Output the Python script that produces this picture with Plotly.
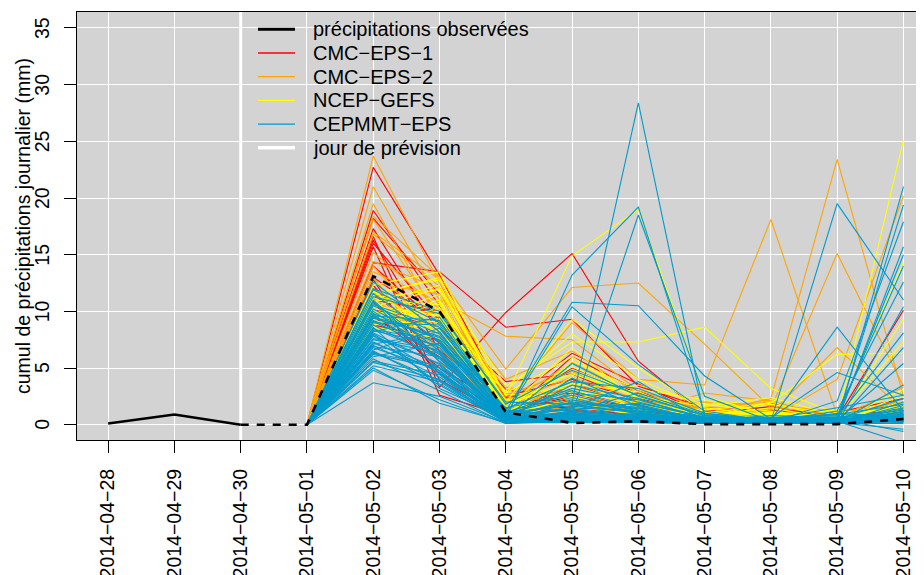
import plotly.graph_objects as go

dates = ["2014-04-28", "2014-04-29", "2014-04-30", "2014-05-01", "2014-05-02",
         "2014-05-03", "2014-05-04", "2014-05-05", "2014-05-06", "2014-05-07",
         "2014-05-08", "2014-05-09", "2014-05-10"]
forecast_day = "2014-04-30"
forecast_dates = dates[3:]

observed = [0.1, 0.9, 0.0, 0.0, 13.1, 10.0, 1.1, 0.15, 0.3, 0.05, 0.05, 0.05, 0.5]

cmc_eps_1 = [
    [0, 22.7, 13.2, 2.0, 1.5, 0.8, 0.3, 0.5, 0.4, 0.9],
    [0, 18.9, 10.5, 1.2, 2.5, 1.3, 0.6, 0.4, 0.8, 1.2],
    [0, 17.3, 8.0, 1.8, 6.3, 3.6, 1.0, 1.6, 0.6, 10.1],
    [0, 16.6, 3.3, 9.9, 15.1, 5.6, 0.8, 1.0, 0.5, 1.6],
    [0, 16.3, 6.5, 2.4, 3.0, 1.5, 0.9, 1.9, 0.7, 2.0],
    [0, 15.7, 2.6, 0.8, 1.9, 0.5, 0.4, 0.3, 0.2, 0.6],
    [0, 14.3, 13.5, 8.6, 9.3, 3.4, 1.5, 1.2, 0.9, 0.8],
    [0, 13.0, 9.0, 3.8, 4.5, 2.0, 0.7, 0.6, 0.3, 1.0],
    [0, 12.3, 5.5, 1.5, 2.2, 1.0, 0.5, 0.9, 0.4, 0.4],
    [0, 11.5, 7.2, 0.9, 1.0, 2.4, 0.6, 0.7, 1.1, 2.3],
    [0, 10.8, 4.5, 1.0, 3.5, 1.8, 1.2, 1.5, 0.5, 0.5],
    [0, 10.2, 8.5, 2.8, 1.3, 0.6, 0.3, 0.5, 0.6, 1.5],
    [0, 9.5, 6.0, 1.3, 5.0, 2.8, 0.9, 0.4, 0.3, 0.7],
    [0, 18.2, 11.5, 0.6, 0.9, 0.9, 0.5, 0.6, 0.7, 1.8],
    [0, 8.8, 7.5, 2.2, 2.8, 1.2, 0.4, 1.3, 0.4, 0.3],
    [0, 16.0, 9.2, 1.1, 1.6, 1.7, 0.8, 0.5, 0.9, 1.1],
    [0, 12.8, 4.0, 0.7, 6.0, 3.0, 0.6, 0.8, 0.2, 0.9],
    [0, 11.0, 10.0, 3.1, 2.0, 0.7, 0.3, 0.4, 0.5, 0.6],
    [0, 9.8, 5.0, 1.6, 1.2, 0.4, 1.0, 1.1, 0.3, 1.3],
    [0, 14.0, 8.8, 2.5, 4.0, 2.2, 0.7, 0.6, 0.6, 0.8],
]

cmc_eps_2 = [
    [0, 23.7, 12.5, 1.5, 2.0, 1.0, 0.6, 0.8, 0.9, 1.0],
    [0, 21.0, 11.0, 7.8, 7.5, 3.0, 1.2, 0.9, 0.6, 1.9],
    [0, 18.4, 13.0, 4.9, 12.1, 12.5, 7.1, 1.5, 0.4, 0.5],
    [0, 18.1, 9.5, 2.0, 9.0, 4.0, 3.5, 18.1, 0.8, 0.6],
    [0, 14.4, 12.0, 1.2, 3.5, 1.6, 1.0, 2.3, 23.4, 2.5],
    [0, 13.5, 10.8, 2.6, 4.7, 2.0, 0.8, 1.4, 15.1, 3.4],
    [0, 12.0, 8.0, 1.0, 1.8, 0.8, 0.5, 1.0, 6.8, 1.2],
    [0, 11.2, 6.8, 0.8, 1.1, 0.5, 0.4, 0.6, 4.0, 20.2],
    [0, 10.5, 9.8, 3.3, 2.5, 1.2, 1.6, 2.0, 0.7, 0.8],
    [0, 16.8, 12.2, 0.9, 0.8, 0.6, 0.3, 0.4, 0.5, 0.4],
    [0, 9.5, 7.0, 1.8, 5.5, 2.5, 1.0, 1.2, 0.3, 1.4],
    [0, 13.0, 5.5, 1.4, 1.4, 1.9, 2.0, 1.7, 1.2, 0.7],
    [0, 15.2, 10.2, 2.3, 3.0, 0.9, 0.7, 0.5, 0.6, 3.3],
    [0, 10.0, 8.5, 0.6, 2.2, 1.4, 0.9, 0.8, 0.4, 0.9],
    [0, 12.5, 11.5, 4.0, 6.5, 2.7, 1.4, 1.8, 0.9, 0.6],
    [0, 19.5, 9.0, 1.6, 1.0, 0.7, 0.5, 0.3, 0.2, 1.1],
    [0, 11.8, 6.2, 1.1, 3.8, 1.5, 0.6, 1.5, 1.0, 2.0],
    [0, 14.0, 7.5, 2.8, 1.7, 1.1, 2.8, 2.1, 0.5, 0.5],
    [0, 9.0, 9.0, 1.3, 2.6, 0.6, 0.4, 0.9, 0.7, 1.6],
    [0, 17.0, 12.8, 1.9, 4.2, 2.2, 1.1, 0.7, 0.6, 0.8],
]

ncep_gefs = [
    [0, 12.3, 13.5, 2.5, 14.9, 19.0, 2.5, 0.8, 0.5, 25.1],
    [0, 11.6, 12.8, 3.4, 7.3, 7.3, 8.6, 3.2, 1.0, 1.3],
    [0, 11.2, 11.9, 2.0, 9.3, 5.0, 1.3, 1.9, 6.2, 6.3],
    [0, 10.5, 9.6, 1.5, 5.1, 2.6, 1.0, 0.9, 0.7, 14.3],
    [0, 10.0, 9.0, 1.2, 3.0, 1.8, 0.7, 0.5, 0.3, 9.3],
    [0, 9.6, 8.5, 0.9, 2.2, 3.5, 1.8, 1.2, 0.6, 7.3],
    [0, 9.2, 11.0, 1.0, 4.2, 1.2, 0.4, 0.7, 0.4, 3.1],
    [0, 8.8, 10.3, 2.8, 6.0, 2.2, 0.9, 0.6, 0.8, 1.5],
    [0, 8.6, 7.6, 0.7, 1.5, 1.0, 0.6, 2.0, 0.4, 0.9],
    [0, 10.8, 12.3, 1.8, 3.6, 2.9, 0.5, 0.4, 0.3, 0.6],
    [0, 9.9, 10.0, 1.1, 2.0, 0.8, 0.7, 1.0, 0.6, 2.0],
    [0, 11.8, 8.0, 3.0, 8.0, 4.0, 1.5, 0.8, 0.5, 0.8],
    [0, 9.4, 11.5, 0.5, 1.1, 0.6, 0.3, 0.5, 0.2, 1.0],
    [0, 10.2, 9.3, 1.4, 4.8, 2.4, 1.2, 0.9, 1.3, 0.5],
    [0, 8.4, 8.8, 2.2, 2.9, 1.5, 0.8, 1.5, 0.4, 1.8],
    [0, 11.0, 10.6, 0.8, 5.6, 3.1, 2.2, 0.6, 0.7, 0.7],
    [0, 9.0, 9.8, 1.6, 1.7, 1.1, 0.4, 0.3, 0.5, 1.2],
    [0, 10.4, 12.0, 2.6, 3.3, 1.9, 1.0, 1.8, 0.9, 0.4],
    [0, 11.4, 13.0, 1.3, 6.8, 2.0, 0.6, 0.7, 0.4, 2.6],
    [0, 9.7, 8.2, 0.6, 2.5, 1.3, 0.9, 1.1, 0.6, 0.9],
    [0, 8.7, 10.8, 2.0, 4.5, 2.5, 1.6, 2.4, 0.8, 1.6],
]

cepmmt_eps = [
    [0, 8.0, 4.5, 0.3, 2.0, 28.4, 0.6, 0.2, 0.1, 0.3],
    [0, 10.8, 6.5, 0.5, 13.2, 19.2, 1.0, 0.4, 0.3, 0.8],
    [0, 7.2, 5.0, 0.4, 1.0, 18.5, 2.5, 0.3, 0.2, 21.0],
    [0, 11.9, 9.0, 1.2, 10.8, 10.5, 4.3, 0.5, 0.4, 0.6],
    [0, 9.5, 7.8, 0.9, 10.4, 5.3, 1.2, 0.3, 0.5, 19.4],
    [0, 6.5, 3.5, 0.2, 0.8, 1.5, 0.4, 0.3, 19.5, 11.0],
    [0, 12.6, 8.2, 0.6, 5.4, 2.5, 0.8, 0.4, 8.6, 1.2],
    [0, 5.5, 4.0, 0.3, 4.1, 1.6, 0.5, 0.6, 4.6, 2.6],
    [0, 8.5, 6.0, 0.8, 1.5, 3.8, 0.3, 0.2, 2.1, 17.9],
    [0, 7.8, 5.4, 0.5, 0.6, 0.9, 0.2, 0.1, 0.3, 15.7],
    [0, 10.2, 7.0, 1.5, 2.6, 1.2, 0.5, 0.4, 0.5, 15.0],
    [0, 6.8, 4.8, 0.2, 0.4, 0.7, 0.3, 0.6, 0.8, 14.0],
    [0, 9.0, 8.8, 1.0, 3.2, 2.0, 0.6, 0.3, 1.2, 12.6],
    [0, 5.8, 3.0, 0.1, 0.5, 0.4, 0.1, 0.2, 0.1, 10.4],
    [0, 11.3, 9.8, 2.0, 1.8, 1.0, 0.4, 0.5, 0.6, 8.1],
    [0, 7.5, 6.3, 0.6, 0.9, 0.6, 0.2, 0.3, 0.2, 6.8],
    [0, 8.8, 5.8, 0.4, 1.2, 2.8, 0.9, 0.4, 0.4, 5.4],
    [0, 3.7, 2.5, 0.2, 0.3, 0.3, 0.1, 0.1, 0.2, 3.5],
    [0, 6.0, 7.2, 0.7, 2.2, 1.1, 0.3, 0.5, 1.5, 2.6],
    [0, 10.5, 8.0, 1.3, 0.7, 0.5, 0.6, 0.2, 0.3, -1.6],
    [0, 9.2, 6.8, 0.3, 1.6, 1.8, 0.4, 0.3, 0.5, -0.6],
    [0, 7.0, 4.2, 0.5, 0.4, 0.2, 0.1, 0.4, 0.2, -0.4],
    [0, 8.2, 9.5, 1.1, 3.0, 1.3, 0.7, 0.6, 0.7, 0.9],
    [0, 6.3, 5.2, 0.4, 0.8, 0.8, 0.3, 0.2, 0.4, 0.5],
    [0, 9.8, 7.5, 0.7, 1.4, 0.6, 0.5, 0.3, 0.3, 1.5],
    [0, 5.2, 3.8, 0.2, 0.2, 0.4, 0.2, 0.1, 0.1, 0.2],
    [0, 11.0, 5.6, 0.9, 2.8, 2.2, 0.6, 0.5, 0.9, 1.8],
    [0, 7.6, 6.6, 0.3, 0.6, 1.0, 0.2, 0.3, 0.2, 0.7],
    [0, 8.6, 3.2, 0.6, 1.1, 0.7, 0.4, 0.8, 0.6, 1.0],
    [0, 6.6, 8.5, 1.4, 3.8, 3.2, 1.0, 0.4, 0.3, 0.4],
    [0, 10.0, 6.2, 0.4, 0.5, 0.3, 0.1, 0.2, 0.1, 2.0],
    [0, 4.8, 2.2, 0.1, 0.3, 0.5, 0.3, 0.2, 0.2, 0.3],
    [0, 9.4, 7.7, 0.8, 1.9, 1.4, 0.5, 0.3, 0.4, 1.1],
    [0, 7.3, 4.6, 0.3, 0.7, 0.6, 0.2, 0.6, 0.5, 0.6],
    [0, 12.0, 10.0, 1.8, 4.8, 2.6, 0.8, 0.4, 0.3, 0.9],
    [0, 6.2, 5.0, 0.5, 1.0, 0.8, 0.4, 0.3, 0.6, 0.2],
    [0, 8.3, 7.0, 0.6, 0.9, 1.7, 0.3, 0.2, 0.2, 1.4],
    [0, 5.0, 1.9, 0.2, 0.2, 0.2, 0.1, 0.1, 0.1, 0.1],
    [0, 9.6, 9.2, 1.0, 2.4, 0.9, 0.6, 0.5, 0.4, 0.5],
    [0, 7.9, 3.6, 0.4, 0.6, 0.4, 0.2, 0.2, 0.3, 0.8],
    [0, 10.6, 8.6, 0.9, 1.3, 1.9, 0.7, 0.3, 0.6, 0.3],
    [0, 6.9, 6.0, 0.3, 0.4, 0.3, 0.2, 0.4, 0.2, 1.2],
    [0, 8.1, 5.3, 0.6, 3.5, 2.3, 0.5, 0.6, 0.9, 0.6],
    [0, 11.6, 7.3, 1.1, 1.7, 1.1, 0.4, 0.3, 0.4, 0.4],
    [0, 5.6, 4.4, 0.2, 0.5, 0.6, 0.3, 0.2, 0.3, 0.9],
    [0, 9.1, 6.4, 0.7, 1.0, 0.5, 0.2, 0.5, 0.2, 1.7],
    [0, 7.1, 8.2, 0.8, 2.0, 1.5, 0.6, 0.3, 1.0, 0.7],
    [0, 10.9, 4.7, 0.4, 0.3, 0.3, 0.1, 0.2, 0.1, 0.4],
    [0, 6.4, 3.9, 0.3, 1.2, 0.9, 0.4, 0.4, 0.5, 2.3],
    [0, 8.4, 7.4, 0.5, 0.8, 0.7, 0.3, 0.1, 0.3, 0.6],
    [0, 9.7, 5.9, 0.6, 1.5, 1.2, 0.5, 0.3, 0.4, 1.3],
]

legend_labels = ["précipitations observées", "CMC−EPS−1", "CMC−EPS−2",
                 "NCEP−GEFS", "CEPMMT−EPS", "jour de prévision"]
tick_labels = [d.replace("-", "−") for d in dates]
y_ticks = [0, 5, 10, 15, 20, 25, 30, 35]
y_title = "cumul de précipitations journalier (mm)"

xi = {d: i for i, d in enumerate(dates)}
fx = [xi[d] for d in forecast_dates]
fd = xi[forecast_day]

FONT = "Liberation Sans, Arial, Helvetica, sans-serif"
W, H = 924, 575
BODY = 8                      # default page margin around the plot div
# plot area on the page (pixels)
PL, PR, PT, PB = 77, 922, 12, 440
PW, PH = PR - PL, PB - PT

fig = go.Figure()

groups = [
    (cmc_eps_1, "#FF0000"),
    (cmc_eps_2, "#FFA500"),
    (ncep_gefs, "#FFFF00"),
    (cepmmt_eps, "#009ACD"),
]

for members, color in groups:
    for m in members:
        fig.add_trace(go.Scatter(
            x=fx, y=m, mode="lines",
            line=dict(color=color, width=1.1),
            showlegend=False, hoverinfo="skip"))

obs_solid_x = [i for i in range(len(dates)) if i <= fd]
obs_dash_x = [i for i in range(len(dates)) if i >= fd]
fig.add_trace(go.Scatter(x=obs_solid_x, y=[observed[i] for i in obs_solid_x],
                         mode="lines", line=dict(color="black", width=2.6),
                         showlegend=False))
fig.add_trace(go.Scatter(x=obs_dash_x, y=[observed[i] for i in obs_dash_x],
                         mode="lines",
                         line=dict(color="black", width=2.6, dash="8px,8px"),
                         showlegend=False))

# forecast-day marker line
fig.add_shape(type="line", x0=fd, x1=fd, y0=0, y1=1, yref="paper", xref="x",
              line=dict(color="white", width=3), layer="below")

# manual legend (R style: no box)
leg_colors = ["black", "#FF0000", "#FFA500", "#FFFF00", "#009ACD", "white"]
leg_widths = [3, 1.3, 1.3, 1.3, 1.3, 3.5]
row0, step = 29.3, 23.7
for k, lab in enumerate(legend_labels):
    py = row0 + k * step
    yp = (PB - py) / PH
    fig.add_shape(type="line", xref="paper", yref="paper",
                  x0=(258 - PL) / PW, x1=(295 - PL) / PW, y0=yp, y1=yp,
                  line=dict(color=leg_colors[k], width=leg_widths[k]),
                  layer="above")
    fig.add_annotation(text=lab, xref="paper", yref="paper",
                       x=(311 - PL) / PW, y=yp, xanchor="left",
                       yanchor="middle", showarrow=False,
                       font=dict(size=20, family=FONT, color="black"))

# rotated y tick labels (R las=0 style)
for v in y_ticks:
    fig.add_annotation(text=str(v), xref="paper", yref="y", x=0, y=v,
                       xshift=-(PL - 42), xanchor="center", yanchor="middle",
                       textangle=-90, showarrow=False,
                       font=dict(size=19.5, family=FONT, color="black"))
fig.add_annotation(text=y_title, xref="paper", yref="paper", x=0, y=0.5,
                   xshift=-(PL - 23), xanchor="center", yanchor="middle",
                   textangle=-90, showarrow=False,
                   font=dict(size=19.5, family=FONT, color="black"))

fig.update_layout(
    width=W, height=H,
    margin=dict(l=PL - BODY, r=W - (PR - BODY), t=PT - BODY,
                b=H - (PB - BODY), pad=0),
    paper_bgcolor="white", plot_bgcolor="#D3D3D3",
    font=dict(family=FONT, size=19.5, color="black"),
    showlegend=False,
    xaxis=dict(range=[-0.47, 12.28], tickmode="array",
               tickvals=list(range(len(dates))), ticktext=tick_labels,
               tickangle=-90, ticks="outside", ticklen=12, tickcolor="black",
               showgrid=True, gridcolor="white", gridwidth=1,
               showline=True, linecolor="black", linewidth=1.2, mirror=True,
               zeroline=False, ticklabelstandoff=8, automargin=False,
               tickfont=dict(size=19.5)),
    yaxis=dict(range=[-1.35, 36.41], tickmode="array",
               tickvals=y_ticks, showticklabels=False,
               ticks="outside", ticklen=12, tickcolor="black",
               showgrid=True, gridcolor="white", gridwidth=1,
               showline=True, linecolor="black", linewidth=1.2, mirror=True,
               zeroline=False, automargin=False),
)

fig.write_html("out.html")
